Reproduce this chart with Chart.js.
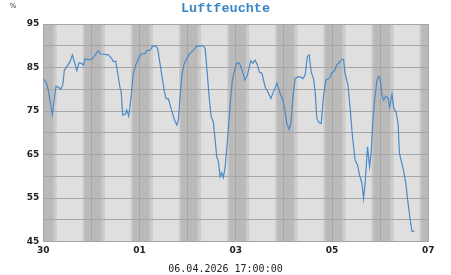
<!DOCTYPE html>
<html>
<head>
<meta charset="utf-8">
<script src="https://cdn.jsdelivr.net/npm/chart.js@4/dist/chart.umd.min.js"></script>
<style>
html,body{margin:0;padding:0;background:#fff;}
canvas{display:block;}
</style>
</head>
<body>
<canvas id="c" width="451" height="275"></canvas>
<script>
// Hours since 30.03.2026 00:00
const hours = [0,1.4,2.5,4.5,6.3,7.5,8.7,9.7,10.5,11.7,13.3,14.5,15.5,16.7,17.8,19.2,20,20.8,22.2,24.2,25.8,27.4,28.6,30.8,32.4,34.1,34.9,36.1,37.1,38.3,38.8,39.6,40.8,41.6,42.6,43.8,44.9,46.1,47.9,
  48.8,50.7,51.6,53.2,54.4,56.1,57.1,58.7,60.4,61.2,62.4,63.7,65.4,66.6,67.4,68.2,69.1,70.2,71.6,73.2,74.9,76.5,79.8,80.7,81.5,82.7,83.7,84.8,85.7,86.5,87.3,88.2,89,89.8,90.7,92,93.2,94.3,95.7,
  96.5,97.8,99,100.6,101.8,103.5,104.5,105.6,106.8,107.8,109,110.6,112.3,113.5,114.8,116.5,118.1,119.5,120.6,121.4,122.6,123.5,124.5,125.6,127.2,128.4,129.4,130.6,131.7,132.6,133.6,134.7,135.6,136.4,137.6,138.6,139.7,140.9,
  142.6,143.9,145.2,146.4,147.6,148.9,149.7,150.5,151.9,153,154.2,155.5,156.7,157.7,158.9,159.7,160.5,161.7,162.7,163.5,164.4,165.2,166.4,167.2,168,168.9,169.7,170.9,171.9,172.7,173.9,174.7,175.9,176.9,177.6,178.6,179.6,180.8,181.8,183,183.9,185];
const humidity = [82.3,81.7,79.8,74.2,80.7,80.5,80,81,84.4,85.2,86.3,87.9,86.3,84.3,86.1,85.9,85.5,87,86.8,86.9,87.9,88.8,88.1,88,87.9,87.1,86.3,86.5,83.7,80.2,79.6,74.1,74.2,75.2,73.8,78.3,83.7,85.6,87.5,
  88.1,88.2,88.9,89,89.8,90,89.2,84.4,79.4,77.9,77.8,75.6,73,71.8,73,78.3,83.3,85.8,87.1,88.3,89,89.9,90,89.4,85.2,78.3,73.7,72.5,68.3,64.5,63.4,59.9,60.8,59.7,62.2,69.1,76.5,82.2,84.8,
  86,86,84.6,82.1,83.3,86.6,86,86.7,85.6,83.9,83.7,80.6,79.1,77.9,79.4,81.4,79.1,77.5,74.8,72.2,70.8,72.2,78.3,82.5,82.9,82.8,82.4,83.3,87.5,87.9,84,82.5,79.4,73.3,72.3,72.1,78.3,82.1,
  82.5,83.7,84.3,85.6,86.1,86.9,86.9,83.7,81,75.6,69.1,63.7,62.6,60.3,58.4,54.9,58.4,66.8,62.2,65.3,73,77.5,82.1,82.9,82.5,78.7,77.5,78.4,78,75.8,78.9,75.8,74.8,72.2,65.3,63.4,61.4,58.4,54.2,49.9,47.3,47.4];
const dayLabels = ["30","31","01","02","03","04","05","06","07"];
const yTicks = [45,55,65,75,85,95];
const chartTitle = "Luftfeuchte";
const unitLabel = "%";
const timestamp = "06.04.2026 17:00:00";
// daylight phases (hours of day)
const twilightStart = 5, dayStart = 6.7, dayEnd = 19.7, twilightEnd = 20.5;

const points = hours.map((h, i) => ({x: h, y: humidity[i]}));

const bandsPlugin = {
  id: 'bands',
  beforeDraw(chart) {
    const {ctx, chartArea: a, scales: {x}} = chart;
    ctx.save();
    ctx.fillStyle = '#bababa';
    ctx.fillRect(a.left, a.top, a.right - a.left, a.bottom - a.top);
    for (let d = 0; d < 8; d++) {
      const p = h => x.getPixelForValue(d * 24 + h);
      ctx.fillStyle = '#cbcbcb';
      ctx.fillRect(p(twilightStart), a.top, p(twilightEnd) - p(twilightStart), a.bottom - a.top);
      ctx.fillStyle = '#dfdfdf';
      ctx.fillRect(p(dayStart), a.top, p(dayEnd) - p(dayStart), a.bottom - a.top);
    }
    ctx.restore();
  },
  afterDraw(chart) {
    const ctx = chart.ctx;
    ctx.save();
    ctx.textAlign = 'center';
    ctx.textBaseline = 'alphabetic';
    ctx.fillStyle = '#3b87c6';
    ctx.font = 'bold 13.5px "Liberation Mono", monospace';
    ctx.fillText(chartTitle, 225.5, 12);
    ctx.fillStyle = '#333';
    ctx.font = '7px "DejaVu Sans", sans-serif';
    ctx.fillText(unitLabel, 13, 8);
    ctx.fillStyle = '#222';
    ctx.font = '10px "DejaVu Sans Mono", monospace';
    ctx.fillText(timestamp, 225.5, 271.5);
    ctx.restore();
  }
};

new Chart(document.getElementById('c'), {
  type: 'line',
  data: {
    datasets: [{
      data: points,
      borderColor: '#4a8ac6',
      borderWidth: 1.2,
      pointRadius: 0,
      tension: 0,
      fill: false
    }]
  },
  options: {
    responsive: false,
    animation: false,
    devicePixelRatio: 1,
    layout: {padding: {left: 0, right: 22.7, top: 24, bottom: 0}},
    plugins: {legend: {display: false}, tooltip: {enabled: false}, title: {display: false}},
    scales: {
      x: {
        type: 'linear',
        min: 0, max: 192,
        afterFit(s) { s.height = 33.4; },
        grid: {color: '#a6a6a6', lineWidth: 1, drawTicks: false},
        border: {color: '#a6a6a6'},
        ticks: {
          stepSize: 24, autoSkip: false, maxRotation: 0, padding: 4,
          color: '#222', font: {family: '"DejaVu Sans", sans-serif', size: 9, weight: 'bold'},
          callback: v => { const i = Math.round(v / 24); return i % 2 === 0 ? dayLabels[i] : ''; }
        }
      },
      y: {
        min: 45, max: 95,
        afterFit(s) { s.width = 43.3; },
        grid: {color: '#a6a6a6', lineWidth: 1, drawTicks: false},
        border: {color: '#a6a6a6'},
        ticks: {
          stepSize: 5, autoSkip: false, padding: 4,
          color: '#222', font: {family: '"DejaVu Sans", sans-serif', size: 9, weight: 'bold'},
          callback: v => yTicks.includes(v) ? String(v) : ''
        }
      }
    }
  },
  plugins: [bandsPlugin]
});
</script>
</body>
</html>
